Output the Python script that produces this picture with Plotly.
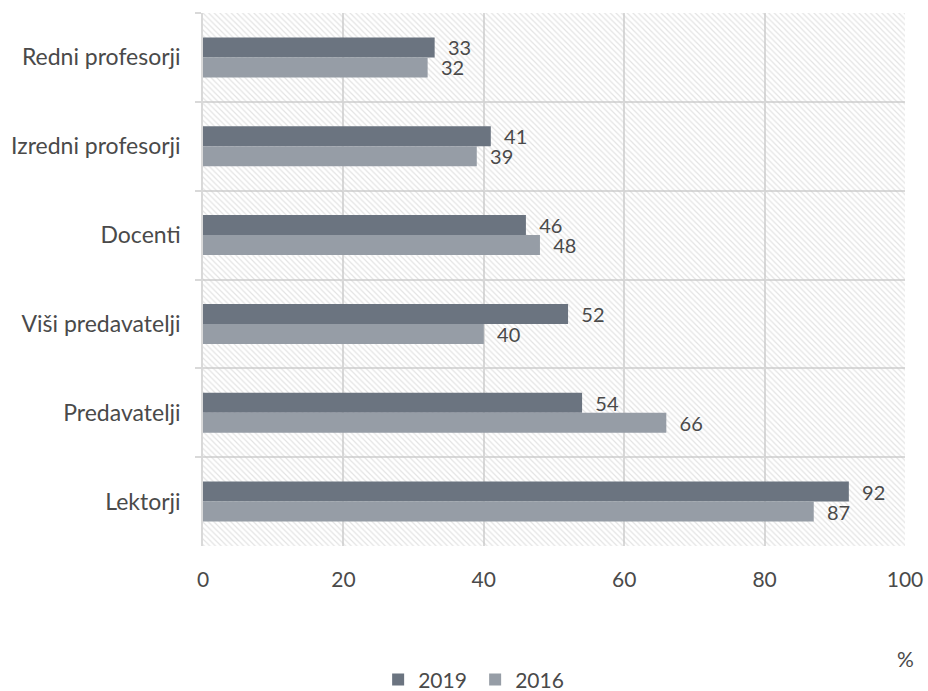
import plotly.graph_objects as go

categories = ["Redni profesorji", "Izredni profesorji", "Docenti",
              "Viši predavatelji", "Predavatelji", "Lektorji"]
values_2019 = [33, 41, 46, 52, 54, 92]
values_2016 = [32, 39, 48, 40, 66, 87]
series_names = ["2019", "2016"]
x_ticks = [0, 20, 40, 60, 80, 100]

FONT = "Lato, 'Open Sans', sans-serif"
TXT = "#4a4a4a"
GRID = "#d9d9d9"
C2019 = "#6b7480"
C2016 = "#969da6"
BW = 0.225

fig = go.Figure()

# hatched plot-area background (one band per category, spanning the axis range)
fig.add_trace(go.Bar(
    y=categories, x=[x_ticks[-1]] * len(categories), orientation="h",
    width=1, offset=-0.5,
    marker=dict(color="rgba(0,0,0,0)", line=dict(width=0),
                pattern=dict(shape="\\", fgcolor="#c8c8c8", size=4, solidity=0.3)),
    hoverinfo="skip", showlegend=False,
))

for name, vals, col, off in [(series_names[0], values_2019, C2019, -BW),
                             (series_names[1], values_2016, C2016, 0)]:
    fig.add_trace(go.Bar(
        y=categories, x=vals, orientation="h", name=name,
        width=BW, offset=off,
        marker=dict(color=col, line=dict(width=0)),
        text=vals, texttemplate="  %{x}", textposition="outside",
        constraintext="none",
        textfont=dict(size=20, color=TXT, family=FONT), cliponaxis=False,
    ))

fig.update_layout(
    width=928, height=691,
    margin=dict(l=203, r=23, t=13, b=145),
    paper_bgcolor="white", plot_bgcolor="white",
    barmode="overlay",
    font=dict(family=FONT, size=21, color=TXT),
    xaxis=dict(range=[0, 100], tickvals=x_ticks, showgrid=True, gridcolor=GRID,
               gridwidth=1.5, zeroline=False, showline=False, ticks="",
               automargin=False, ticklabelstandoff=19,
               tickfont=dict(size=21, color=TXT)),
    yaxis=dict(categoryorder="array", categoryarray=categories, autorange="reversed",
               tickson="boundaries", showgrid=True, gridcolor=GRID, gridwidth=1.5,
               ticks="outside", ticklen=6, tickcolor=GRID, tickwidth=1.5,
               showline=True, linecolor=GRID, linewidth=1.5, mirror=False,
               automargin=False, ticklabelstandoff=16,
               tickfont=dict(size=23, color=TXT)),
    legend=dict(orientation="h", xref="container", yref="container",
                x=0.512, xanchor="center", y=0.016, yanchor="middle",
                font=dict(size=21, color=TXT), itemwidth=30, entrywidth=52,
                traceorder="normal"),
    showlegend=True,
    annotations=[dict(text="%", xref="paper", yref="paper", x=1.0014, y=-0.212,
                      xanchor="center", yanchor="middle",
                      showarrow=False, font=dict(size=21, color=TXT, family=FONT))],
)

fig.write_html("out.html", config={"displayModeBar": False},
               post_script="document.body.style.margin='0';document.body.style.overflow='hidden';")
